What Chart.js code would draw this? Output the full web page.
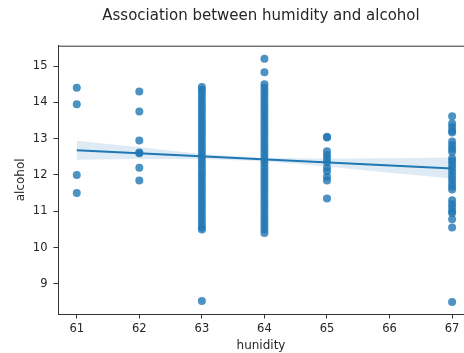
<!DOCTYPE html>
<html>
<head>
<meta charset="utf-8">
<script src="https://cdn.jsdelivr.net/npm/chart.js@4/dist/chart.umd.min.js"></script>
<style>
  html, body { margin: 0; padding: 0; background: #fff; }
</style>
</head>
<body>
<canvas id="regChart" width="464" height="353"></canvas>
<script>
// humidity groups and the alcohol values
const humidity = [61, 62, 63, 64, 65, 67];
const alcohol61 = [14.4, 13.95, 12.0, 11.5];
const alcohol62 = [14.3, 13.75, 12.95, 12.6, 12.62, 12.2, 11.85];
const alcohol63 = [14.42, 14.35, 14.25, 14.15, 14.05, 13.95, 13.85, 13.75, 13.65, 13.55,
    13.45, 13.35, 13.25, 13.15, 13.05, 12.95, 12.85, 12.75, 12.65, 12.55,
    12.45, 12.35, 12.25, 12.15, 12.05, 11.95, 11.85, 11.75, 11.65, 11.55,
    11.45, 11.35, 11.25, 11.15, 11.05, 10.95, 10.85, 10.75, 10.65, 10.55, 10.5, 8.53];
const alcohol64 = [15.2, 14.83, 14.5, 14.4, 14.3, 14.2, 14.1, 14.0, 13.9, 13.8, 13.7,
    13.6, 13.5, 13.4, 13.3, 13.2, 13.1, 13.0, 12.9, 12.8, 12.7, 12.6,
    12.5, 12.4, 12.3, 12.2, 12.1, 12.0, 11.9, 11.8, 11.7, 11.6, 11.5,
    11.4, 11.3, 11.2, 11.1, 11.0, 10.9, 10.8, 10.7, 10.6, 10.5, 10.4];
const alcohol65 = [13.05, 13.03, 12.65, 12.55, 12.45, 12.35, 12.2, 12.1, 11.95, 11.85, 11.35];
const alcohol67 = [13.62, 13.42, 13.32, 13.22, 13.17, 12.92, 12.82, 12.72, 12.64,
    12.46, 12.38, 12.28, 12.18, 12.08, 11.98, 11.88, 11.78, 11.68, 11.6,
    11.3, 11.2, 11.1, 11.0, 10.95, 10.78, 10.55, 8.5];
const groups = [alcohol61, alcohol62, alcohol63, alcohol64, alcohol65, alcohol67];

// regression line and its confidence band
const fitX = [61, 67];
const fitY = [12.68, 12.18];
const bandX = [61, 62, 63, 64, 65, 66, 67];
const bandHigh = [12.94, 12.76, 12.58, 12.47, 12.45, 12.46, 12.48];
const bandLow = [12.42, 12.44, 12.44, 12.38, 12.23, 12.06, 11.9];

const xTicks = [61, 62, 63, 64, 65, 66, 67];
const yTicks = [9, 10, 11, 12, 13, 14, 15];

const blue = '#1f77b4';
const ink = '#262626';
const font = 'DejaVu Sans';

let points = [];
humidity.forEach((h, i) => {
    groups[i].forEach(a => points.push({x: h, y: a}));
});

const topFrame = {
    id: 'topFrame',
    afterDraw(chart) {
        const {ctx, chartArea} = chart;
        ctx.save();
        ctx.strokeStyle = '#333';
        ctx.lineWidth = 1;
        ctx.beginPath();
        ctx.moveTo(chartArea.left, chartArea.top + 0.5);
        ctx.lineTo(chartArea.right, chartArea.top + 0.5);
        ctx.stroke();
        ctx.restore();
    }
};

const ctx = document.getElementById('regChart').getContext('2d');
const regChart = new Chart(ctx, {
    type: 'scatter',
    data: {
        datasets: [
            {
                data: fitX.map((x, i) => ({x: x, y: fitY[i]})),
                showLine: true,
                borderColor: blue,
                borderWidth: 2,
                pointRadius: 0
            },
            {
                data: bandX.map((x, i) => ({x: x, y: bandHigh[i]})),
                showLine: true,
                borderWidth: 0,
                borderColor: 'rgba(0,0,0,0)',
                backgroundColor: 'rgba(31,119,180,0.15)',
                fill: '+1',
                pointRadius: 0
            },
            {
                data: bandX.map((x, i) => ({x: x, y: bandLow[i]})),
                showLine: true,
                borderWidth: 0,
                borderColor: 'rgba(0,0,0,0)',
                pointRadius: 0
            },
            {
                data: points,
                pointRadius: 4,
                pointBorderWidth: 0,
                pointBackgroundColor: 'rgba(31,119,180,0.8)'
            }
        ]
    },
    options: {
        responsive: false,
        animation: false,
        devicePixelRatio: 1,
        layout: {padding: 0, autoPadding: false},
        plugins: {
            legend: {display: false},
            tooltip: {enabled: false},
            title: {
                display: true,
                fullSize: false,
                text: 'Association between humidity and alcohol',
                color: ink,
                font: {family: font, size: 15, weight: 'normal'},
                padding: {top: 7.5, bottom: 20.2}
            }
        },
        scales: {
            x: {
                type: 'linear',
                min: 60.7,
                max: 67.19,
                afterBuildTicks: s => { s.ticks = xTicks.map(v => ({value: v})); },
                afterFit: s => { s.height = 39; s.paddingLeft = 0; s.paddingRight = 0; },
                grid: {drawOnChartArea: false, tickLength: 4.5, color: '#333'},
                border: {color: '#333', width: 1},
                ticks: {color: ink, font: {family: font, size: 11.5}, padding: 3.5, maxRotation: 0},
                title: {display: true, text: 'hunidity', color: ink,
                    font: {family: font, size: 12}, padding: {top: 0, bottom: 0}}
            },
            y: {
                type: 'linear',
                min: 8.17,
                max: 15.56,
                afterBuildTicks: s => { s.ticks = yTicks.map(v => ({value: v})); },
                afterFit: s => { s.width = 58; s.paddingTop = 0; s.paddingBottom = 0; },
                grid: {drawOnChartArea: false, tickLength: 4.5, color: '#333'},
                border: {color: '#333', width: 1},
                ticks: {color: ink, font: {family: font, size: 11.5}, padding: 6},
                title: {display: true, text: 'alcohol', color: ink,
                    font: {family: font, size: 12}, padding: {top: 14, bottom: 0}}
            }
        }
    },
    plugins: [topFrame]
});
</script>
</body>
</html>
